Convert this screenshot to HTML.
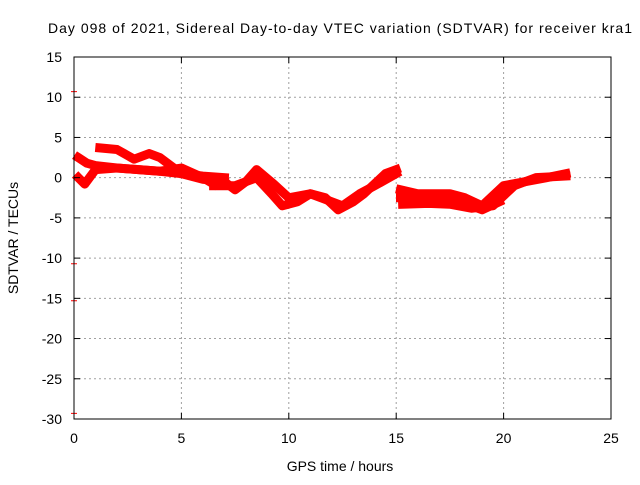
<!DOCTYPE html>
<html><head><meta charset="utf-8"><style>
body{margin:0;background:#fff}
svg text{font-family:"Liberation Sans",sans-serif;font-size:14px;fill:#000}
</style></head><body>
<svg id="c" width="640" height="480">
<rect width="640" height="480" fill="#fff"/>
<text x="340" y="33" text-anchor="middle" textLength="584">Day 098 of 2021, Sidereal Day-to-day VTEC variation (SDTVAR) for receiver kra1</text>
<g id="grid"></g><g id="data"></g><g id="axes"></g>
<text x="340" y="471" text-anchor="middle">GPS time / hours</text>
<text transform="translate(18,238) rotate(-90)" text-anchor="middle">SDTVAR / TECUs</text>
</svg>
<script>
const xTicks=[0,5,10,15,20,25];
const yTicks=[15,10,5,0,-5,-10,-15,-20,-25,-30];
const track1=[[0.2,2.5],[0.6,1.8],[1,1.5],[2,1.2],[3,1],[4,0.8],[5,0.5],[6,-0.2],[7,-0.5]];
const track2=[[1.2,3.7],[2,3.5],[2.8,2.3],[3.5,3],[4,2.5],[4.6,1.3],[5,0.5],[6,0.2],[7,0]];
const track3=[[0.2,0],[0.5,-0.8],[1,1],[2,1.2],[3,1],[4,0.8],[5,1.2],[6,0],[6.5,-0.8]];
const track4=[[7,-0.5],[7.5,-1.5],[8,-0.5],[8.5,1],[9.3,-0.8],[10,-2.5],[11,-2],[11.7,-2.5],[12.3,-4],[13,-3],[13.5,-2],[14.5,0.5],[15,1]];
const track5=[[6.5,-1],[7.5,-1],[8.5,0],[9.2,-2],[9.7,-3.5],[10.4,-3],[11,-2],[12.5,-3.5],[13.3,-2],[14,-1],[15,0.5]];
const track6=[[15.2,-2.5],[16,-2.5],[17,-2.3],[18,-3],[19,-4],[19.8,-3]];
const track7=[[15.2,-1.5],[16,-2],[16.5,-2],[17.5,-2],[18.2,-2.5],[19,-3.5],[20,-1],[21,-0.5],[22,0],[22.9,0.5]];
const track8=[[15.3,-3.3],[16.5,-3.2],[17.5,-3.3],[18.5,-3.8],[19.5,-3.5],[20.5,-1],[21.5,0],[22.9,0.2]];
const tracks=[track1,track2,track3,track4,track5,track6,track7,track8];
const outliers=[[0,10.7],[0,-10.7],[0,-15.3],[0,-29.3]];
const NS="http://www.w3.org/2000/svg";
const X0=74,X1=611,Y0=57,Y1=419;
const sx=v=>X0+(v-0)/25*(X1-X0);
const sy=v=>Y0+(15-v)/45*(Y1-Y0);
function mk(t,a,p){const e=document.createElementNS(NS,t);for(const k in a)e.setAttribute(k,a[k]);p.appendChild(e);return e;}
const grid=document.getElementById('grid'),axes=document.getElementById('axes'),data=document.getElementById('data');
xTicks.forEach(v=>{
 if(v>0&&v<25){const l=mk('line',{x1:sx(v),x2:sx(v),y1:Y0,y2:Y1,stroke:'#a0a0a0','stroke-dasharray':'2,3'},grid);
 
 }
 const t=mk('text',{x:sx(v),y:Y1+24,'text-anchor':'middle'},axes);t.textContent=v;
 
 
 mk('line',{x1:sx(v),x2:sx(v),y1:Y1,y2:Y1-6,stroke:'#000'},axes);
 mk('line',{x1:sx(v),x2:sx(v),y1:Y0,y2:Y0+6,stroke:'#000'},axes);
});
yTicks.forEach(v=>{
 if(v<15&&v>-30){const l=mk('line',{x1:X0,x2:X1,y1:sy(v),y2:sy(v),stroke:'#a0a0a0','stroke-dasharray':'2,3'},grid);
 
 }
 const t=mk('text',{x:X0-12,y:sy(v)+5,'text-anchor':'end'},axes);t.textContent=v;
 
 
 mk('line',{x1:X0,x2:X0+6,y1:sy(v),y2:sy(v),stroke:'#000'},axes);
 mk('line',{x1:X1,x2:X1-6,y1:sy(v),y2:sy(v),stroke:'#000'},axes);
});
const fr=mk('rect',{x:X0,y:Y0,width:X1-X0,height:Y1-Y0,fill:'none',stroke:'#000'},axes);


tracks.forEach(tr=>{
 const p=mk('polyline',{points:tr.map(d=>sx(d[0])+','+sy(d[1])).join(' '),fill:'none',stroke:'#ff0000','stroke-width':9,'stroke-linejoin':'round','stroke-linecap':'square'},data);
 
 
});
outliers.forEach(d=>{
 const p=mk('path',{d:`M${sx(d[0])-3},${sy(d[1])}h6M${sx(d[0])},${sy(d[1])-3}v6`,stroke:'#ff0000','stroke-width':1},data);
 
 
});
</script>
</body></html>
